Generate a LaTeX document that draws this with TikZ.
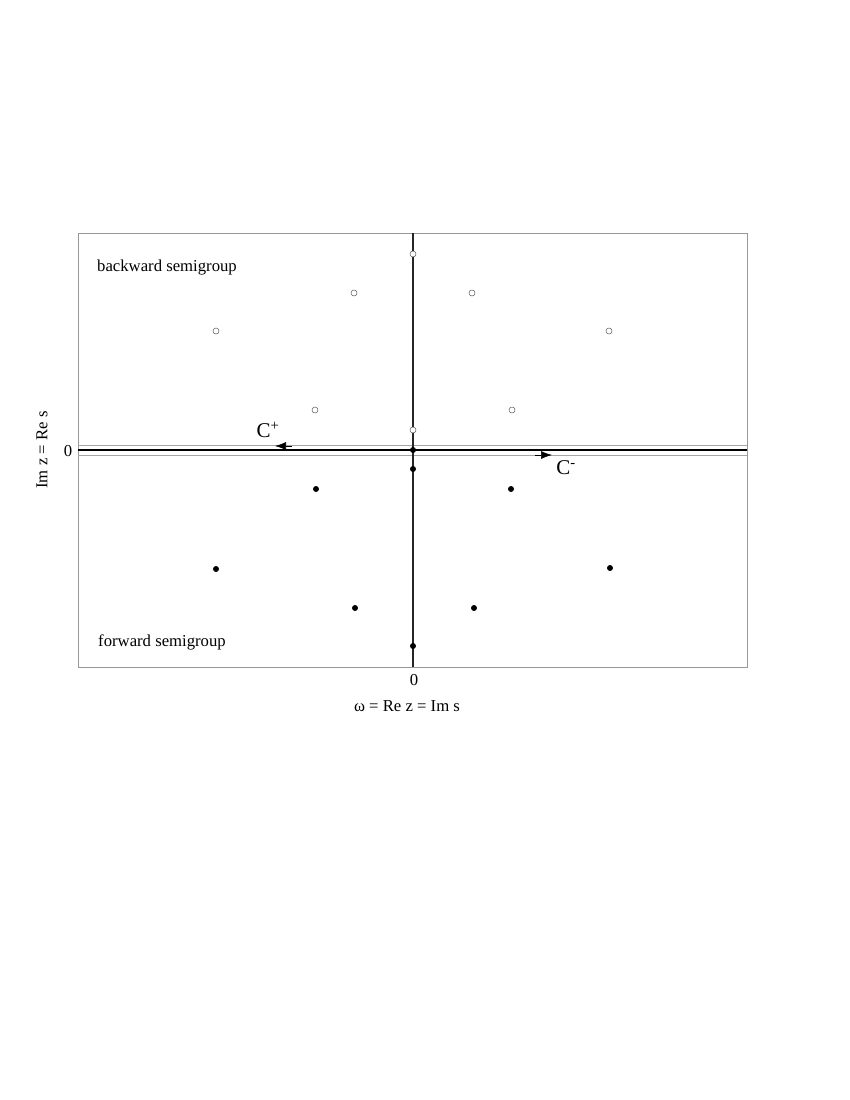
\documentclass[tikz,border=0pt]{standalone}
\usepackage{fontspec}
\setmainfont{Liberation Serif}
\usetikzlibrary{arrows.meta}
\begin{document}
\begin{tikzpicture}[x=1pt,y=-1pt,
  frame/.style={draw=gray!80, line width=0.8pt},
  axis/.style={draw=black!85, line width=1.5pt},
  contour/.style={draw=gray!70, line width=0.8pt},
  openpt/.style={circle, draw=gray!70!black, line width=0.5pt, fill=white, inner sep=0pt, minimum size=6pt},
  fullpt/.style={circle, fill=black, inner sep=0pt, minimum size=6pt},
  lbl/.style={font=\fontsize{16.7}{19}\selectfont, inner sep=0pt},
  clbl/.style={font=\fontsize{21}{24}\selectfont, inner sep=0pt},
  arr/.style={-{Latex[length=11pt,width=8pt]}, line width=0.6pt}]
\useasboundingbox (0,0) rectangle (850,1100);
\draw[frame] (78,233) rectangle (747,667);
% horizontal lines
\coordinate (hl1) at (78,445); \coordinate (hr1) at (747,445);
\coordinate (hl2) at (78,450); \coordinate (hr2) at (747,450);
\coordinate (hl3) at (78,455); \coordinate (hr3) at (747,455);
\draw[contour] (hl1) -- (hr1);
\draw[contour] (hl3) -- (hr3);
\draw[draw=black, line width=1.6pt] (hl2) -- (hr2);
% vertical axis
\coordinate (vt) at (413,233); \coordinate (vb) at (413,667);
\draw[axis] (vt) -- (vb);
% arrows
\coordinate (cpa) at (292,446); \coordinate (cpb) at (275,446);
\draw[arr] (cpa) -- (cpb);
\coordinate (cma) at (535,455); \coordinate (cmb) at (552,455);
\draw[arr] (cma) -- (cmb);
\node[clbl] (cplus) at (268,430) {C\textsuperscript{+}};
\node[clbl] (cminus) at (566,468) {C\textsuperscript{-}};
% open points
\foreach \n/\x/\y in {o1/413/254, o2/354/293, o3/472/293, o4/216/331, o5/609/331, o6/315/410, o7/512/410, o8/413/430}
  \node[openpt] (\n) at (\x,\y) {};
% filled points
\foreach \n/\x/\y in {f1/413/450, f2/413/469, f3/316/489, f4/511/489, f5/216/569, f6/610/568, f7/355/608, f8/474/608, f9/413/646}
  \node[fullpt] (\n) at (\x,\y) {};
% labels
\node[lbl] (bw) at (167,268) {backward semigroup};
\node[lbl] (fw) at (162,642) {forward semigroup};
\node[lbl] (zx) at (414,680) {0};
\node[lbl] (xl) at (407,706) {ω = Re z = Im s};
\node[lbl] (zy) at (68,451) {0};
\node[lbl, rotate=90] (yl) at (42,450) {Im z = Re s};
\end{tikzpicture}
\end{document}
